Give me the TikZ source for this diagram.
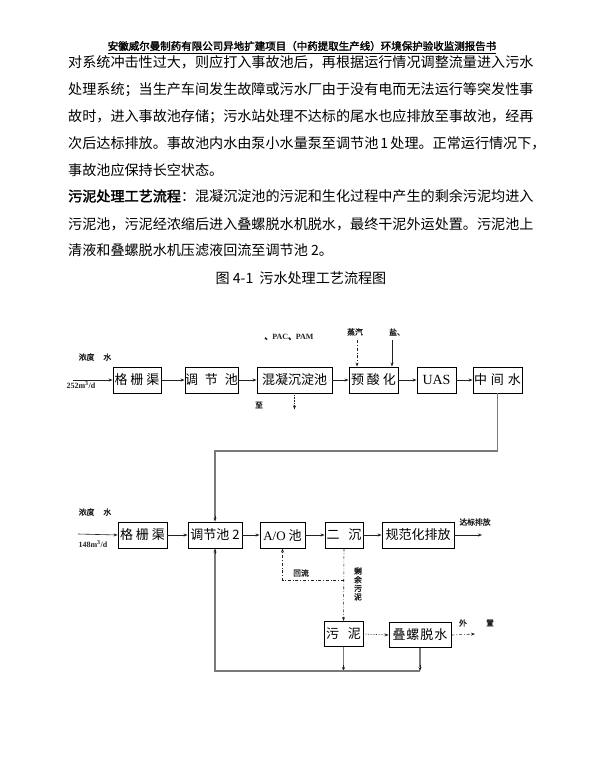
\documentclass[tikz,border=0pt]{standalone}
\usepackage{fontspec}
\setmainfont{Noto Sans CJK SC}
\newfontfamily\latinfont{Liberation Serif}
\newfontfamily\heavyfont{Noto Sans CJK SC}[FakeBold=2]
\usetikzlibrary{arrows.meta, positioning, calc}

\XeTeXlinebreaklocale "zh"
\XeTeXlinebreakskip=0pt plus 4pt minus 0.5pt

\newcommand{\bodyfont}{\fontsize{14.1}{14.1}\selectfont}
\newcommand{\boxfont}{\fontsize{13}{13}\selectfont}
\newcommand{\tagfont}{\heavyfont\fontsize{7.8}{8.6}\selectfont}
\newcommand{\fullline}[1]{\makebox[469pt][s]{#1}}

\begin{document}
\begin{tikzpicture}[x=1pt, y=-1pt, every node/.style={inner sep=0pt}]

% ---------------------------------------------------------------- colours
\definecolor{inkcolor}{HTML}{222222}
\definecolor{pipecolor}{HTML}{7A7A7A}

% ---------------------------------------------------------------- styles
\tikzset{
    stage/.style={
        rectangle, draw=black, line width=0.9pt, fill=white,
        minimum height=26pt, font=\boxfont, text=black,
    },
    flow/.style={-{Stealth[length=4pt, width=3pt]}, line width=0.6pt, inkcolor},
    sludge/.style={flow, dash dot},
    drip/.style={flow, densely dotted},
    pipe/.style={line width=1.2pt, pipecolor},
    tag/.style={font=\tagfont, text=inkcolor},
    textline/.style={anchor=west, font=\bodyfont, text=black},
}

\useasboundingbox (0,0) rectangle (592,764);
\fill[white] (0,0) rectangle (592,764);

% ---------------------------------------------------------------- page text
\node[font=\heavyfont\fontsize{10.5}{10.5}\selectfont] (header) at (302,46)
    {安徽威尔曼制药有限公司异地扩建项目（中药提取生产线）环境保护验收监测报告书};
\draw[line width=0.7pt] ($(header.south west)+(0,2)$) -- ($(header.south east)+(0,2)$);

\node[textline] (l1) at (68,62)  {\fullline{对系统冲击性过大，则应打入事故池后，再根据运行情况调整流量进入污水}};
\node[textline] (l2) at (68,90)  {\fullline{处理系统；当生产车间发生故障或污水厂由于没有电而无法运行等突发性事}};
\node[textline] (l3) at (68,117) {\fullline{故时，进入事故池存储；污水站处理不达标的尾水也应排放至事故池，经再}};
\node[textline] (l4) at (68,143) {\fullline{次后达标排放。事故池内水由泵小水量泵至调节池 1 处理。正常运行情况下，}};
\node[textline] (l5) at (68,170) {事故池应保持长空状态。};
\node[textline] (l6) at (68,196) {\fullline{{\heavyfont 污泥处理工艺流程}：混凝沉淀池的污泥和生化过程中产生的剩余污泥均进入}};
\node[textline] (l7) at (68,224) {\fullline{污泥池，污泥经浓缩后进入叠螺脱水机脱水，最终干泥外运处置。污泥池上}};
\node[textline] (l8) at (68,250) {清液和叠螺脱水机压滤液回流至调节池 2。};

\node[font=\bodyfont] (caption) at (301,278) {图 4-1\hspace{6pt}污水处理工艺流程图};

% ---------------------------------------------------------------- line 1 (252 m3/d)
\node[stage, minimum width=48pt] (grid1) at (137,380)   {格\hspace{3pt}栅\hspace{3pt}渠};
\node[stage, minimum width=51pt] (equal1) at (211.5,380) {调\hspace{7pt}节\hspace{7pt}池};
\node[stage, minimum width=75pt] (coag) at (294.5,380)   {混凝沉淀池};
\node[stage, minimum width=49pt] (acid) at (373.5,380)   {预\hspace{3pt}酸\hspace{3pt}化};
\node[stage, minimum width=39pt, font=\latinfont\fontsize{14}{14}\selectfont] (uasb) at (436.5,380) {UAS};
\node[stage, minimum width=49pt] (mid) at (497.5,380)    {中\hspace{4pt}间\hspace{4pt}水};

\coordinate (in1) at (73,380);
\node[tag] (conc1) at (95,357) {浓度\hspace{9pt}水};
\node[tag, font=\latinfont\bfseries\fontsize{8}{8}\selectfont] (rate1) at (81,385) {252m\textsuperscript{3}/d};
\draw[flow] (in1) -- (grid1.west);

\foreach \i/\j in {grid1/equal1, equal1/coag, coag/acid, acid/uasb, uasb/mid} {
    \draw[flow] (\i.east) -- (\j.west);
}

% dosing from above
\node[tag, font=\latinfont\bfseries\fontsize{8}{8}\selectfont] (dose) at (289,337)
    {{\tagfont 、}PAC{\tagfont 、}PAM};
\node[tag] (steam) at (355,332) {蒸汽};
\node[tag] (salt) at (397,332) {盐、};
\coordinate (steamtop) at (357,340);
\coordinate (salttop) at (392,340);
\draw[sludge] (steamtop) -- (steamtop |- acid.north);
\draw[flow] (salttop) -- (salttop |- acid.north);

% sludge of the coagulation tank
\node[tag] (to1) at (259,405) {至};
\coordinate (coagout) at ($(coag.south)+(0,16)$);
\draw[drip] (coag.south) -- (coagout);

% ---------------------------------------------------------------- line 2 (148 m3/d)
\node[stage, minimum width=49pt] (grid2) at (142.5,535)  {格\hspace{3pt}栅\hspace{3pt}渠};
\node[stage, minimum width=54pt] (equal2) at (215,535)   {调节池 2};
\node[stage, minimum width=45pt] (ao) at (282.5,535)     {{\latinfont\fontsize{13}{13}\selectfont A/O} 池};
\node[stage, minimum width=38pt] (clar) at (344,535)     {二\hspace{9pt}沉};
\node[stage, minimum width=72pt] (disch) at (418,535)    {规范化排放};

\coordinate (in2) at (78,534);
\node[tag] (conc2) at (95,512) {浓度\hspace{9pt}水};
\node[tag, font=\latinfont\bfseries\fontsize{8}{8}\selectfont] (rate2) at (93,544) {148m\textsuperscript{3}/d};
\draw[flow] (in2) -- (grid2.west);

\foreach \i/\j in {grid2/equal2, equal2/ao, ao/clar, clar/disch} {
    \draw[flow] (\i.east) -- (\j.west);
}

\coordinate (out1) at (482,535);
\node[tag] (ok) at (475,522) {达标排放};
\draw[flow] (disch.east) -- (out1);

% line 1 joins line 2
\coordinate (knee) at (0,451);
\draw[pipe] (mid.south) |- (equal2.north |- knee) -- ($(equal2.north)+(0,-4)$);
\draw[flow] ($(equal2.north)+(0,-6)$) -- (equal2.north);

% ---------------------------------------------------------------- sludge line
\node[stage, minimum width=39pt, minimum height=25pt] (tank) at (343.5,634) {污\hspace{9pt}泥};
\node[stage, minimum width=62pt, minimum height=25pt] (press) at (420,635) {叠\hspace{1pt}螺\hspace{1pt}脱\hspace{1pt}水};

% return to A/O and surplus sludge
\coordinate (ret) at (0,580);
\draw[sludge] (clar.south |- ret) -| (ao.south);
\node[tag] (back) at (301,573) {回流};
\draw[sludge] (clar.south) -- (tank.north);
\node[tag, align=center] (surplus) at (358,584) {剩\\余\\污\\泥};

\draw[drip] (tank.east) -- (press.west);
\coordinate (out2) at (475,634);
\draw[sludge] (press.east) -- (out2);
\node[tag] (away1) at (463,623) {外};
\node[tag] (away2) at (490,623) {置};

% liquor back to equalisation tank 2
\coordinate (floor) at (0,671);
\draw[pipe] (tank.south) -- ($(tank.south |- floor)+(0,-4)$);
\draw[pipe] (press.south) -- ($(press.south |- floor)+(0,-4)$);
\draw[flow] ($(tank.south |- floor)+(0,-6)$) -- (tank.south |- floor);
\draw[flow] ($(press.south |- floor)+(0,-6)$) -- (press.south |- floor);
\draw[pipe] (press.south |- floor) -- (equal2.south |- floor) -- ($(equal2.south)+(0,4)$);
\draw[flow] ($(equal2.south)+(0,6)$) -- (equal2.south);

\end{tikzpicture}
\end{document}
